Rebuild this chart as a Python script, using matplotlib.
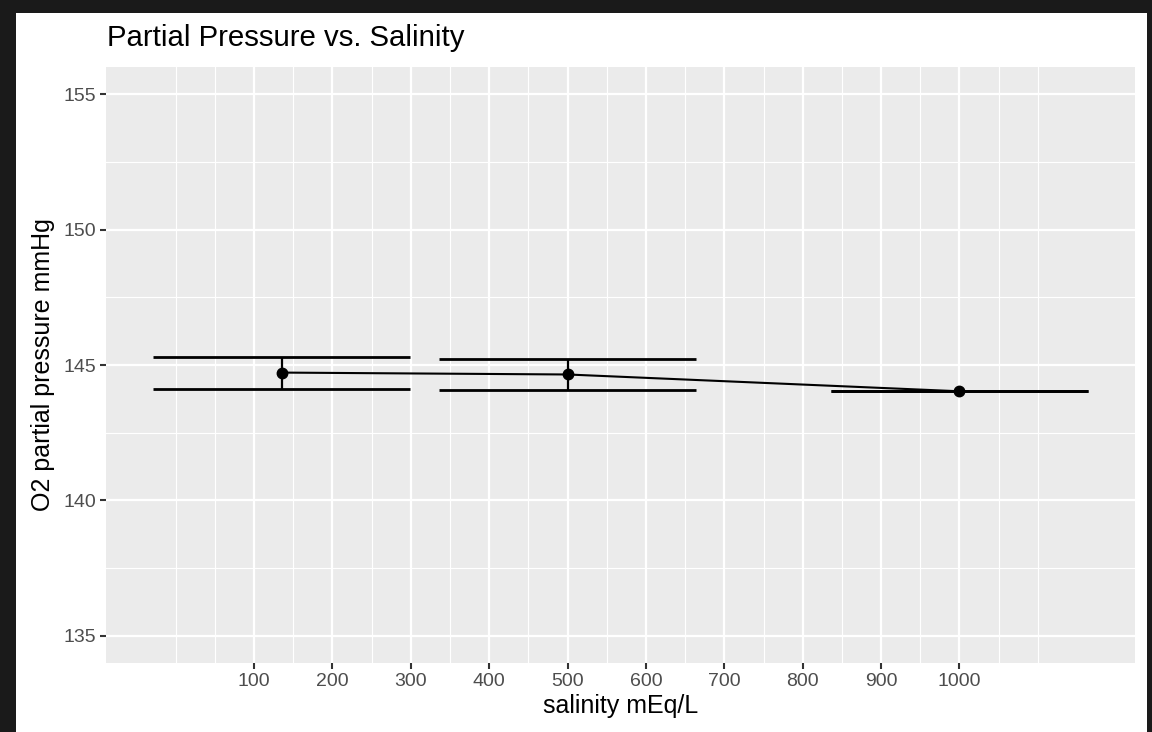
import numpy as np
import matplotlib
matplotlib.use('Agg')
import matplotlib.pyplot as plt
from matplotlib.patches import Rectangle
from matplotlib.ticker import FixedLocator

plt.rcParams['font.family'] = ['Liberation Sans', 'DejaVu Sans']

# data
salinity = [135, 500, 1000]
o2_mean = [144.72, 144.65, 144.03]
o2_low = [144.12, 144.07, 144.03]
o2_high = [145.28, 145.21, 144.03]
x_breaks = [100, 200, 300, 400, 500, 600, 700, 800, 900, 1000]
y_breaks = [135, 140, 145, 150, 155]

C_PANEL = '#EBEBEB'
C_TEXT = '#4D4D4D'
C_TICK = '#333333'

fig = plt.figure(figsize=(11.52, 7.32), dpi=100)
ax = fig.add_axes([106 / 1152, 1 - 663 / 732, (1135 - 106) / 1152, (663 - 67) / 732])
ax.set_facecolor(C_PANEL)

# errorbar cap width like ggplot: 0.9 * resolution of x
x = np.array(salinity, dtype=float)
cap_w = 0.9 * np.min(np.diff(np.sort(x)))
x0, x1 = x - cap_w / 2, x + cap_w / 2

ax.plot(x, o2_mean, color='black', linewidth=1.5, zorder=3)
ax.vlines(x, o2_low, o2_high, color='black', linewidth=1.6, zorder=3)
ax.hlines(o2_low, x0, x1, color='black', linewidth=2.0, zorder=3)
ax.hlines(o2_high, x0, x1, color='black', linewidth=2.0, zorder=3)
ax.plot(x, o2_mean, 'o', color='black', markersize=7.5, zorder=4)

span = x1.max() - x0.min()
ax.set_xlim(x0.min() - 0.05 * span, x1.max() + 0.05 * span)
ax.set_ylim(134, 156)

ax.set_xticks(x_breaks)
ax.set_yticks(y_breaks)
ax.xaxis.set_minor_locator(FixedLocator(np.arange(0, 1101, 50)))
ax.yaxis.set_minor_locator(FixedLocator([137.5, 142.5, 147.5, 152.5]))
ax.grid(True, which='major', color='white', linewidth=1.6)
ax.grid(True, which='minor', color='white', linewidth=0.8)
ax.set_axisbelow(True)
for s in ax.spines.values():
    s.set_visible(False)

ax.tick_params(which='major', length=4, width=1.5, color=C_TICK,
               labelsize=14, labelcolor=C_TEXT, pad=3)
ax.tick_params(which='minor', length=0)

ax.set_xlabel('salinity mEq/L', fontsize=18, color='black', labelpad=3)
ax.set_ylabel('O2 partial pressure mmHg', fontsize=18, color='black', labelpad=6)
fig.text(107 / 1152, 1 - 46 / 732, 'Partial Pressure vs. Salinity',
         fontsize=21.2, color='black', ha='left', va='baseline')

# black screen frame around the screenshot
for (l, b, w, h) in [(0, 0, 16 / 1152, 1), (0, 1 - 13 / 732, 1, 13 / 732),
                     (1147 / 1152, 0, 5 / 1152, 1)]:
    fig.patches.append(Rectangle((l, b), w, h, transform=fig.transFigure,
                                 facecolor='#1a1a1a', edgecolor='none'))

fig.savefig('out.png', dpi=100)
